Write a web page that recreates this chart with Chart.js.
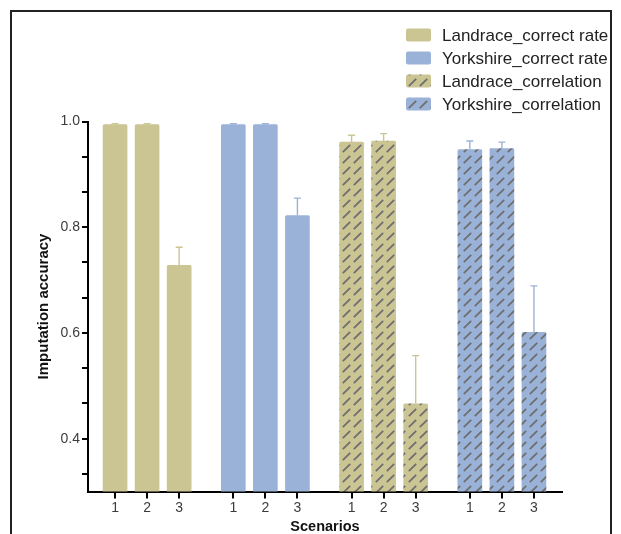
<!DOCTYPE html>
<html>
<head>
<meta charset="utf-8">
<script src="https://cdn.jsdelivr.net/npm/chart.js@4/dist/chart.umd.min.js"></script>
<style>
  html, body { margin: 0; padding: 0; background: #fff; }
  canvas { display: block; }
</style>
</head>
<body>
<canvas id="c" width="621" height="534"></canvas>
<script>
// Scenario labels shown under every bar of each group
const scenarios = ['1', '2', '3'];

// Series names
const seriesNames = [
  'Landrace_correct rate',
  'Yorkshire_correct rate',
  'Landrace_correlation',
  'Yorkshire_correlation'
];

// Imputation accuracy (mean) and upper error (SD) per scenario
const landraceRate     = [0.994, 0.994, 0.728];
const landraceRateErr  = [0.002, 0.002, 0.034];
const yorkshireRate    = [0.994, 0.994, 0.822];
const yorkshireRateErr = [0.002, 0.002, 0.033];
const landraceCorr     = [0.961, 0.963, 0.466];
const landraceCorrErr  = [0.013, 0.014, 0.091];
const yorkshireCorr    = [0.947, 0.949, 0.601];
const yorkshireCorrErr = [0.016, 0.012, 0.088];

// Y axis labelled ticks and range
const yMajorTicks = [0.4, 0.6, 0.8, 1.0];
const yMinorDivisions = 3;
const yMin = 0.3;
const yMax = 1.0;

// Colours
const khaki = '#cbc594';
const blue = '#9bb2d8';
const hatchInk = '#6e6e6e';

// Horizontal layout: each group of three scenarios is spaced by groupStride units
const groupStride = 3.69;

const canvas = document.getElementById('c');
const mainCtx = canvas.getContext('2d');

function hatch(base) {
  const t = document.createElement('canvas');
  t.width = 11; t.height = 11;
  const g = t.getContext('2d');
  g.fillStyle = base;
  g.fillRect(0, 0, 11, 11);
  g.strokeStyle = hatchInk;
  g.lineWidth = 1.8;
  g.beginPath();
  g.moveTo(1.8, 9.2);
  g.lineTo(9.2, 1.8);
  g.stroke();
  return mainCtx.createPattern(t, 'repeat');
}

function points(values, groupIndex) {
  return values.map((v, i) => ({ x: groupIndex * groupStride + i + 1, y: v }));
}

const seriesValues = [landraceRate, yorkshireRate, landraceCorr, yorkshireCorr];
const seriesErrors = [landraceRateErr, yorkshireRateErr, landraceCorrErr, yorkshireCorrErr];
const seriesBase = [khaki, blue, khaki, blue];
const seriesFill = [khaki, blue, hatch(khaki), hatch(blue)];

const datasets = seriesNames.map((name, g) => ({
  label: name,
  data: points(seriesValues[g], g),
  errors: seriesErrors[g],
  errorColor: seriesBase[g],
  backgroundColor: seriesFill[g],
  borderWidth: 0,
  borderRadius: 1.5,
  borderSkipped: 'bottom',
  barThickness: 24,
  grouped: false
}));

const tickPositions = datasets.flatMap(ds => ds.data.map(p => p.x));

// White page with a dark frame
const framePlugin = {
  id: 'frame',
  beforeDraw(chart) {
    const ctx = chart.ctx;
    ctx.save();
    ctx.fillStyle = '#fff';
    ctx.fillRect(0, 0, chart.width, chart.height);
    ctx.strokeStyle = '#222';
    ctx.lineWidth = 2;
    ctx.strokeRect(11, 11, 600, 600);
    ctx.restore();
  }
};

// Upper error bars with caps
const errorBarPlugin = {
  id: 'errorBars',
  afterDatasetsDraw(chart) {
    const ctx = chart.ctx;
    const yScale = chart.scales.y;
    chart.data.datasets.forEach((ds, di) => {
      const meta = chart.getDatasetMeta(di);
      meta.data.forEach((bar, i) => {
        const top = yScale.getPixelForValue(ds.data[i].y + ds.errors[i]);
        ctx.save();
        ctx.strokeStyle = ds.errorColor;
        ctx.lineWidth = 1.4;
        ctx.beginPath();
        ctx.moveTo(bar.x, bar.y);
        ctx.lineTo(bar.x, top);
        ctx.moveTo(bar.x - 3.5, top);
        ctx.lineTo(bar.x + 3.5, top);
        ctx.stroke();
        ctx.restore();
      });
    });
  }
};

// Vertical legend in the upper right
const legendPlugin = {
  id: 'sideLegend',
  afterDraw(chart) {
    const ctx = chart.ctx;
    const x0 = 406, y0 = 35, rowH = 23, sw = 25, sh = 13;
    ctx.save();
    ctx.font = '17px "Liberation Sans", Arial, sans-serif';
    ctx.textBaseline = 'middle';
    ctx.textAlign = 'left';
    chart.data.datasets.forEach((ds, i) => {
      const cy = y0 + i * rowH;
      ctx.fillStyle = ds.backgroundColor;
      ctx.beginPath();
      ctx.roundRect(x0, cy - sh / 2, sw, sh, 2);
      ctx.fill();
      ctx.fillStyle = '#222';
      ctx.fillText(ds.label, x0 + 36, cy + 1);
    });
    ctx.restore();
  }
};

const tickFont = { family: '"Liberation Sans", Arial, sans-serif', size: 14 };
const xTitleFont = { family: '"Liberation Sans", Arial, sans-serif', size: 14.5, weight: 'bold', lineHeight: 1 };
const yTitleFont = { family: '"Liberation Sans", Arial, sans-serif', size: 15, weight: 'bold', lineHeight: 1 };

new Chart(canvas, {
  type: 'bar',
  data: { datasets },
  plugins: [framePlugin, errorBarPlugin, legendPlugin],
  options: {
    responsive: false,
    animation: false,
    devicePixelRatio: 1,
    layout: { padding: { top: 121.5, right: 59, bottom: 0, left: 0 } },
    plugins: { legend: { display: false }, tooltip: { enabled: false } },
    scales: {
      x: {
        type: 'linear',
        min: 0.156,
        max: 2 + 3 * groupStride + 1 + 0.875,
        offset: false,
        afterFit(scale) { scale.height = 42.5; },
        afterBuildTicks(scale) {
          scale.ticks = tickPositions.map(v => ({ value: v }));
        },
        grid: { offset: false, drawOnChartArea: false, drawTicks: true, tickLength: 7, color: '#000', lineWidth: 2 },
        border: { color: '#000', width: 2 },
        ticks: {
          autoSkip: false,
          maxRotation: 0,
          padding: 1,
          color: '#3c3c3c',
          font: tickFont,
          callback: (value, index) => scenarios[index % scenarios.length]
        },
        title: { display: true, text: 'Scenarios', color: '#111', font: xTitleFont, padding: { top: 0, bottom: 0 } }
      },
      y: {
        min: yMin,
        max: yMax,
        afterFit(scale) { scale.width = 88; },
        afterBuildTicks(scale) {
          const step = (yMajorTicks[1] - yMajorTicks[0]) / yMinorDivisions;
          const ticks = [];
          for (let k = 0; ; k++) {
            const v = yMax - k * step;
            if (v <= yMin + 1e-6) break;
            ticks.push({ value: +v.toFixed(6) });
          }
          scale.ticks = ticks.reverse();
        },
        grid: { drawOnChartArea: false, drawTicks: true, tickLength: 6, color: '#000', lineWidth: 2 },
        border: { color: '#000', width: 2 },
        ticks: {
          autoSkip: false,
          padding: 2,
          color: '#3c3c3c',
          font: tickFont,
          callback: (value) => yMajorTicks.some(m => Math.abs(m - value) < 1e-6) ? value.toFixed(1) : ''
        },
        title: { display: true, text: 'Imputation accuracy', color: '#111', font: yTitleFont, padding: { top: 36, bottom: 0 } }
      }
    }
  }
});
</script>
</body>
</html>
